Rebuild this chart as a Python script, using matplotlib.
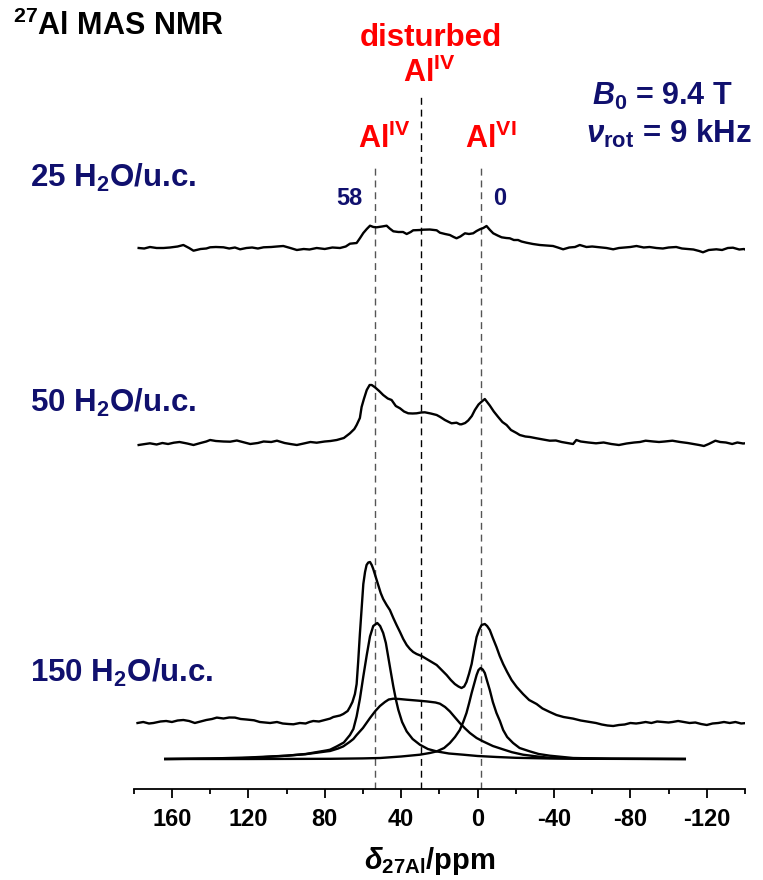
import numpy as np
import matplotlib.pyplot as plt
from matplotlib.ticker import MultipleLocator

plt.rcParams['font.family'] = ['Liberation Sans', 'DejaVu Sans']
plt.rcParams['font.weight'] = 'bold'
plt.rcParams['axes.unicode_minus'] = False
plt.rcParams['mathtext.fontset'] = 'custom'
plt.rcParams['mathtext.rm'] = 'Liberation Sans:bold'
plt.rcParams['mathtext.it'] = 'Liberation Sans:bold:italic'
plt.rcParams['mathtext.bf'] = 'Liberation Sans:bold'

NAVY = '#10106e'
RED = '#ff0000'

# spectra: (ppm, intensity above own baseline)
ppm_25 = [177.4, 174.5, 171.5, 168, 164.4, 161, 157, 154, 151, 148.7, 145, 142, 140, 137, 133,
          130, 127, 124.3, 121, 118, 115, 112, 108, 105, 101.7, 98, 94.6, 91, 88, 84.2, 80, 76,
          72, 69, 66.8, 63.3, 61.5, 59.8, 58, 56.3, 54.5, 52.8, 50, 47.6, 46, 44.1, 41.5, 39,
          37.1, 35, 33.7, 30, 28.5, 25, 21.4, 19.7, 17, 14.5, 12.5, 11, 9, 6.6, 4.5, 2.3, 0.5,
          -1.2, -3, -4.7, -6.5, -8.2, -10.5, -12.6, -15, -16.9, -19, -21.2, -23, -25.6, -29,
          -32.6, -36, -39.5, -42, -44.8, -48, -51, -53.5, -57, -60, -64, -67.5, -71, -74, -77,
          -80, -83.2, -87, -90, -93.6, -97, -100, -104, -107, -110, -113, -116, -118, -121,
          -125, -128, -131, -133.7, -137, -139.5, -141.5]
int_25 = [0, -0.5, 1, 0, 0, 0.5, 1.5, 3, 0, -2.7, -1, -0.5, 0.7, 1, 0.7,
          -0.5, 0.5, -1.3, 0, 0.5, -0.5, 0.7, 1, 1.5, 2, 0, -2, -1, -1.5, 0, -1, 0.5,
          0, 1.5, 4.3, 5, 10, 15, 19, 22.3, 21, 20.7, 21.5, 22.3, 19.5, 16.7, 16, 16,
          14, 16, 17.7, 18, 18.3, 18.5, 17.7, 15.3, 14, 13, 11, 9.7, 11.5, 14.7, 14, 14.7, 17,
          18.7, 20, 22, 18, 14.7, 12.5, 10.7, 10, 9.7, 8, 8, 6.5, 5.3, 4,
          3, 2.5, 2, 0.5, -1.3, 0.5, 1, 3, 1, 1.5, 0.7, 0, -1.3, 0, 0.5,
          1, 2, 0.5, 1, 0, -0.5, 0.5, 1, -0.5, -1, -1.5, -3, -4.3, -2,
          -1.3, -2, 0, 0.3, -1.5, -1, -3]

ppm_50 = [177.4, 174, 171.5, 168, 165, 162, 159, 156, 152, 148.7, 145, 142, 140, 137, 133,
          129.5, 126, 122, 119, 115, 112, 108, 105, 101, 98, 94.6, 91, 87.5, 84.2, 80, 77,
          73.7, 70, 66.8, 64.5, 63.3, 61.6, 60.7, 59.5, 58, 56.5, 55.4, 53.7, 51.5, 49.4, 47,
          45, 42.8, 40.6, 38.5, 36.3, 34, 31.9, 29.5, 27.6, 24.5, 21.4, 19.5, 17.1, 15, 13.6,
          11, 9.3, 8.4, 6.5, 4.9, 3, 1.4, -0.5, -2.1, -3.8, -5, -6.4, -8.5, -10.8, -13,
          -15.2, -17.5, -20.4, -22.1, -25, -27.4, -30.9, -34.3, -37.8, -41, -44, -47, -50,
          -51.7, -54, -58, -62, -66, -70, -74, -78, -82, -85, -88, -92, -95, -98, -102, -106,
          -110, -113, -116, -118.5, -121, -124.5, -127, -130, -133.3, -136, -139, -141.5]
int_50 = [-2, -1, -0.3, -1.5, 0, -1, 0.3, 1, -0.5, -2, 0, 1.5, 3, 2, 1.5,
          1.3, 2.5, 0.5, -1, 0, 1.5, 1, 2.3, 0, -1, -2, -0.5, 1, 0.3, 1.5, 2,
          3, 5, 9.7, 14, 18, 25, 36, 44, 53, 58, 58, 55.7, 52, 48, 44.5,
          43, 37, 34.7, 31.5, 29.7, 29.5, 29.7, 30.5, 30.7, 29.5, 28, 26, 23, 21, 19.7,
          20.3, 18.7, 18.7, 20, 22.5, 27, 33, 38.5, 41.3, 44, 41, 37.5, 31.5, 26, 21,
          18, 13, 10, 8, 6.5, 6, 4.7, 3.5, 2.3, 2.5, 1, 0, -1,
          3, 1.5, 0.5, -0.3, 0.5, -1, -2, -0.5, 0.5, 1, 2.3, 1.5, 1, 1.5, 2.3, 1,
          0, -1, -2, -3, -1, 2.3, 1, 0.5, -1, 0.5, -0.5, 0]

ppm_150 = [178, 175, 172, 169.7, 166, 163, 160, 157, 154, 151, 148, 145, 142, 139, 136.5, 133,
           130, 127, 124, 121, 117, 114, 111, 108.6, 105, 102, 99, 96.4, 93, 90, 88, 86, 83,
           80, 77.2, 75.5, 72, 70.3, 68, 66.8, 65.5, 64.2, 63.3, 62.5, 61.6, 60.7, 59.8, 58.9,
           58.1, 57.2, 56.3, 55.4, 54.6, 53.3, 52.0, 50.7, 49.4, 47.6, 45.9, 44.1, 42.4, 40.6,
           38.9, 37.1, 35.4, 33.7, 31.9, 29.3, 26.7, 24, 21.4, 18.8, 16.2, 14, 11.9, 10, 8.4,
           7, 5.8, 4.5, 3.1, 1.8, 0.5, -0.8, -2.1, -3.8, -5, -6.4, -8, -9.9, -11.6, -13.4,
           -15.5, -17.8, -20.5, -23.8, -27, -30.9, -34, -37.8, -41.3, -45, -50, -54, -58.7,
           -62, -65, -68, -71, -74, -77, -80, -83, -85, -88, -91, -94, -97, -100, -102, -105,
           -108, -111, -114, -117, -120, -123, -126, -129, -132, -135, -138, -141]
int_150 = [-1, 0, -1.5, -1, 0.5, 1, 0, 1.5, 2, 1, -1, 0.5, 2, 3, 4.4, 3.5,
           4.5, 4.4, 3, 2.5, 1.7, 0, -0.5, -1, 0, -1.5, -2, -2.3, -1, -1.5, 0, 1, 0.5,
           2, 3.4, 5, 6.5, 8, 11, 15, 20, 28, 38, 60, 88, 113, 138, 150,
           157, 159.5, 160, 157, 153, 145, 137, 129, 123, 117, 112, 104, 97, 90,
           83, 77, 73, 70, 68, 66, 63, 60, 57, 52, 47, 42, 38, 35.5, 34,
           35.5, 40, 48, 58, 72, 85, 92, 97, 98, 96, 92, 84, 75, 66, 58,
           50, 42, 35, 28, 22, 18, 13.5, 10, 7, 5, 3.4, 1.5, 0,
           -1, -2.5, -3.5, -4, -3, -2.5, -1, -1.5, -1, 0, -1, 0.5, 0, -0.5, 0, 1,
           0, -1, -0.5, -2, -3, -1.5, -1, 0, -1, 0, -1.5, -1]

# fitted components of the 150 H2O/u.c. spectrum
ppm_al4 = [163.5, 150, 140, 126, 115, 100, 90, 79, 77.2, 73.7, 70, 66.8, 65, 63.3, 61.6, 59.8,
           58, 56.3, 54.6, 52.5, 51, 49.4, 48, 46.8, 45.5, 44.1, 42.8, 41.5, 39.5, 37.1, 34,
           30.2, 26, 21.4, 15, 7.5, 0, -10, -20, -37.8, -60, -80, -108.5]
int_al4 = [0, 0.2, 0.4, 0.6, 1.5, 3.3, 5, 8.6, 9.3, 12.6, 16.5, 24, 30, 42.6, 60, 82.6,
           104, 122.6, 133, 136, 133, 126, 116, 102.6, 88, 72.6, 60, 49.3, 37, 27.6, 20,
           14.3, 10, 7.6, 5.5, 4.3, 3, 2, 1.2, 0.5, 0.2, 0.1, 0]

ppm_al6 = [163.5, 120, 77, 60, 51, 40, 30.2, 25, 21.4, 17.5, 14.5, 11.8, 9.3, 7.5, 5.8, 4.4,
           3.1, 1.8, 0.5, -0.5, -1.6, -2.7, -3.8, -5, -6.4, -8, -9.9, -11.7, -13.4, -15.5,
           -18.6, -22, -27.4, -32, -37.8, -50, -70, -108.5]
int_al6 = [0, 0, 0.2, 0.6, 1, 2.5, 4.3, 6, 7.6, 11, 16, 22, 29, 37, 46, 56,
           66, 75, 84, 89, 91, 89.5, 86, 78, 69, 57, 46, 38, 29, 22,
           16, 11, 7.6, 5, 3.3, 1, 0.3, 0]

ppm_dist = [163.5, 140, 120, 100, 90, 79, 77.2, 73, 70.3, 67, 65, 63.3, 60, 56.3, 53.5, 51.1,
            48.5, 46.5, 44.1, 41, 37.1, 32, 26.7, 22, 19.7, 17, 14.5, 12, 9.3, 6.5, 4, 0.5,
            -2.9, -8, -13.4, -18, -23.8, -32.6, -37.8, -50, -70, -108.5]
int_dist = [0, 0.5, 1.5, 3.3, 4.8, 7.6, 8, 10.5, 12.6, 17, 20, 24, 31, 41, 48, 53,
            57, 59.5, 60.3, 60, 59.3, 58.5, 57.6, 56.5, 55.3, 52, 47.6, 42, 36, 30.5, 26, 21,
            17.6, 13, 9.6, 6.8, 4.3, 2.2, 1.2, 0.5, 0.2, 0]

# vertical stacking offsets
offset_25, offset_50, offset_150, offset_fit = 541, 346, 67, 30

# reference lines: ppm and upper end (axes fraction)
ref_ppm = [53.5, 29.5, -2.0]
ref_top = [0.787, 0.882, 0.787]
ref_color = ['#555555', 'black', '#555555']

fig = plt.figure(figsize=(7.63, 8.8), dpi=100)
ax = fig.add_axes([133.7 / 763, 91 / 880, (745 - 133.7) / 763, 789 / 880])
ax.set_xlim(180, -140)
ax.set_ylim(0, 789)

for x, top, c in zip(ref_ppm, ref_top, ref_color):
    ax.axvline(x, ymin=0, ymax=top, color=c, lw=1.0, ls=(0, (5, 3.5)), zorder=1)

lw = 1.7
ax.plot(ppm_25, np.array(int_25) + offset_25, color='black', lw=lw)
ax.plot(ppm_50, np.array(int_50) + offset_50, color='black', lw=lw)
ax.plot(ppm_150, np.array(int_150) + offset_150, color='black', lw=lw)
for p, v in [(ppm_al4, int_al4), (ppm_al6, int_al6), (ppm_dist, int_dist)]:
    ax.plot(p, np.array(v) + offset_fit, color='black', lw=lw)

for s in ['left', 'right', 'top']:
    ax.spines[s].set_visible(False)
ax.spines['bottom'].set_linewidth(1.3)
ax.set_yticks([])
ax.xaxis.set_major_locator(MultipleLocator(40))
ax.xaxis.set_minor_locator(MultipleLocator(20))
ax.tick_params(axis='x', which='major', direction='out', length=6.5, width=1.3, pad=7,
               labelsize=17)
ax.tick_params(axis='x', which='minor', direction='out', length=3.8, width=1.3)
for lab in ax.get_xticklabels():
    lab.set_fontweight('bold')


def ftext(x, y, s, **kw):
    fig.text(x / 763, 1 - y / 880, s, va='baseline', fontweight='bold', **kw)


ftext(13, 35, r'$^{27}$Al MAS NMR', fontsize=22, color='black')
ftext(431, 46, 'disturbed', fontsize=22.5, color=RED, ha='center')
ftext(403, 82, r'Al$^{\mathrm{IV}}$', fontsize=22, color=RED)
ftext(358, 148, r'Al$^{\mathrm{IV}}$', fontsize=22, color=RED)
ftext(465, 148, r'Al$^{\mathrm{VI}}$', fontsize=22, color=RED)
ftext(592, 105, r'$B_{\mathrm{0}}$ = 9.4 T', fontsize=22, color=NAVY)
ftext(586, 143, r'$\nu_{\mathrm{rot}}$ = 9 kHz', fontsize=22.5, color=NAVY)
ftext(349, 205, '58', fontsize=17, color=NAVY, ha='center')
ftext(500, 205, '0', fontsize=17, color=NAVY, ha='center')
ftext(30, 187, r'25 H$_{\mathrm{2}}$O/u.c.', fontsize=22.5, color=NAVY)
ftext(30, 412, r'50 H$_{\mathrm{2}}$O/u.c.', fontsize=22.5, color=NAVY)
ftext(30, 682, r'150 H$_{\mathrm{2}}$O/u.c.', fontsize=22.5, color=NAVY)
ftext(430, 869, r'$\delta_{\mathrm{27Al}}$/ppm', fontsize=21, color='black', ha='center')

fig.savefig('out.png', dpi=100)
